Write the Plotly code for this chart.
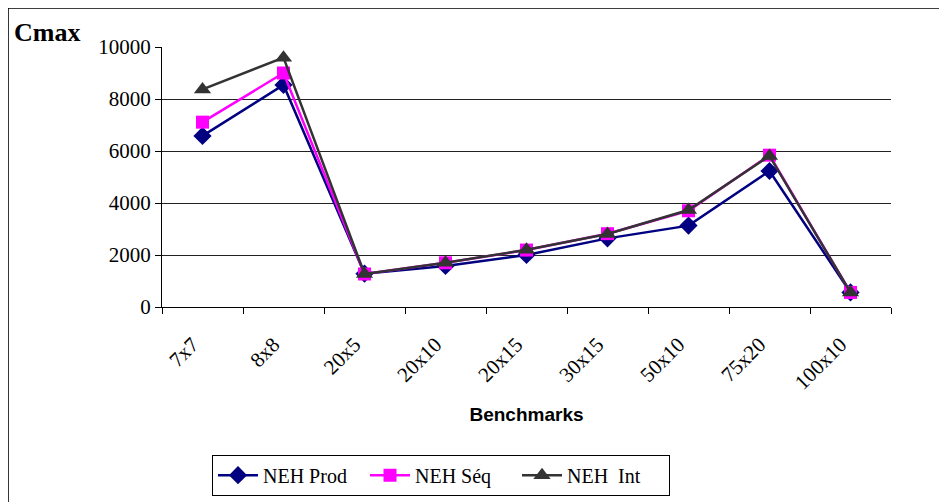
import plotly.graph_objects as go

categories = ["7x7", "8x8", "20x5", "20x10", "20x15", "30x15", "50x10", "75x20", "100x10"]
neh_prod = [6580, 8540, 1280, 1580, 2000, 2640, 3130, 5230, 560]
neh_seq = [7110, 9000, 1270, 1700, 2190, 2820, 3700, 5840, 560]
neh_int = [8370, 9590, 1270, 1700, 2200, 2810, 3730, 5810, 560]
y_ticks = [0, 2000, 4000, 6000, 8000, 10000]
y_tick_labels = ["0", "2000", "4000", "6000", "8000", "10000"]

serif = "Liberation Serif, Times New Roman, serif"

fig = go.Figure()
fig.add_trace(go.Scatter(x=categories, y=neh_prod, name="NEH Prod", mode="lines+markers",
                         line=dict(color="#000080", width=2.5),
                         marker=dict(symbol="diamond", size=14, color="#000080")))
fig.add_trace(go.Scatter(x=categories, y=neh_seq, name="NEH Séq", mode="lines+markers",
                         line=dict(color="#FF00FF", width=2.5),
                         marker=dict(symbol="square", size=13, color="#FF00FF")))
fig.add_trace(go.Scatter(x=categories, y=neh_int, name="NEH  Int", mode="lines+markers",
                         line=dict(color="#333333", width=2.5),
                         marker=dict(symbol="triangle-up", size=15, color="#333333")))

fig.update_layout(
    width=947, height=502,
    margin=dict(l=154, r=64, t=39, b=203, autoexpand=False),
    paper_bgcolor="white", plot_bgcolor="white",
    font=dict(family=serif, size=18, color="black"),
    showlegend=True,
    legend=dict(orientation="h", x=0.0686, y=-0.568, xanchor="left", yanchor="top",
                bordercolor="black", borderwidth=1, bgcolor="white",
                font=dict(family=serif, size=20), itemwidth=40, tracegroupgap=0,
                entrywidth=97, entrywidthmode="pixels"),
    xaxis=dict(type="category", showline=True, linecolor="black", linewidth=1,
               ticks="outside", tickson="boundaries", ticklen=6, tickcolor="black",
               tickangle=-45, showgrid=False, tickfont=dict(family=serif, size=21),
               ticklabelstandoff=16, ticklabelshift=-10,
               title=dict(text="<b>Benchmarks</b>", font=dict(family="Liberation Sans, Arial, sans-serif", size=19),
                          standoff=14),
               range=[-0.5, 8.5]),
    yaxis=dict(range=[0, 10000], tickvals=y_ticks, ticktext=y_tick_labels, showline=True,
               linecolor="black", linewidth=1,
               ticks="outside", ticklen=6, tickcolor="black", showgrid=True, gridcolor="#222222",
               gridwidth=1, zeroline=False, tickfont=dict(family=serif, size=21)),
    annotations=[dict(text="<b>Cmax</b>", xref="paper", yref="paper", x=-0.206, y=1.055,
                      xanchor="left", yanchor="middle", showarrow=False,
                      font=dict(family=serif, size=26, color="black"))],
    shapes=[dict(type="rect", xref="paper", yref="paper", x0=-0.2112, x1=1.0727, y0=-0.8, y1=1.15,
                 line=dict(color="black", width=1.5), fillcolor="rgba(0,0,0,0)", layer="below")],
)

fig.write_html("out.html")
